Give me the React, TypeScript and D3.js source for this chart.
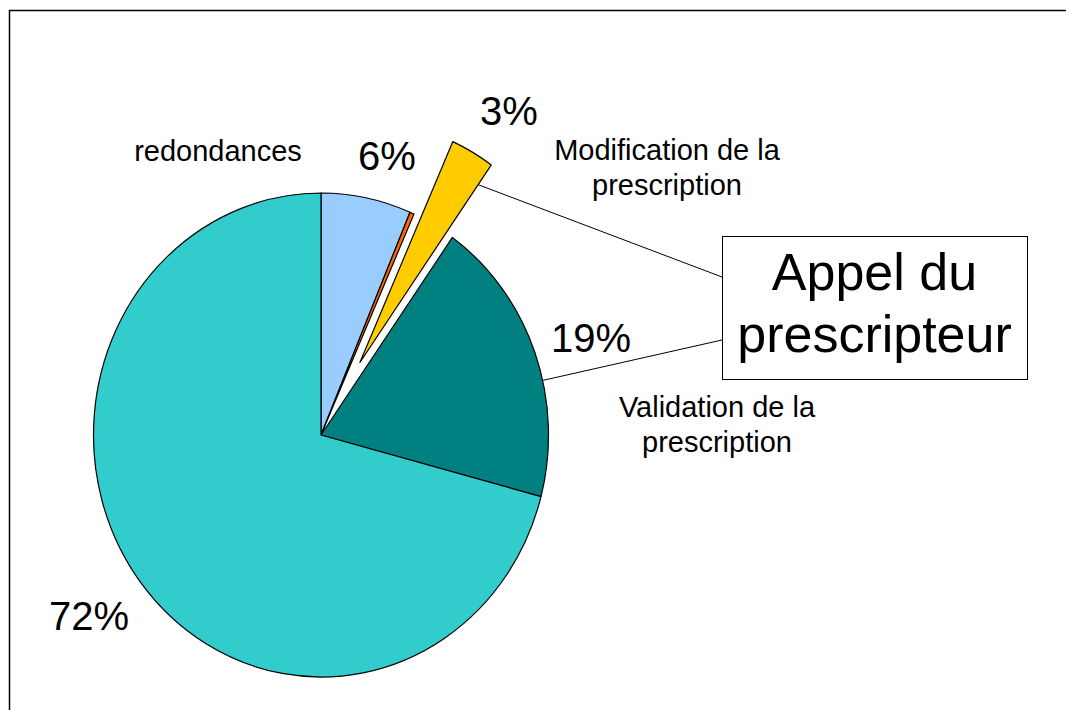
import React, { useEffect, useRef } from 'react';
import * as d3 from 'd3';

// slices clockwise from 12 o'clock
const categories = ['redondances', 'autre', 'Modification de la prescription', 'Validation de la prescription', 'reste'];
const values = [6.4, 0.3, 3.1, 19.3, 70.9];
const pctLabels = ['6%', '', '3%', '19%', '72%'];
const catLabels = [['redondances'], [], ['Modification de la', 'prescription'], ['Validation de la', 'prescription'], []];
const colors = ['#99CCFF', '#FF6600', '#FFCC00', '#008080', '#33CCCC'];
const exploded = [0, 0, 0.345, 0, 0];
const calloutLines = ['Appel du', 'prescripteur'];

const FONT = '"Liberation Sans", Arial, Helvetica, sans-serif';

const App: React.FC = () => {
  const svgRef = useRef<SVGSVGElement>(null);

  useEffect(() => {
    if (!svgRef.current) return;
    const svg = d3.select(svgRef.current);
    svg.selectAll('*').remove();

    const width = 1066;
    const height = 710;
    const cx = 321;
    const cy = 435;
    const rx = 227.5;
    const ry = 242;

    svg.append('rect').attr('width', width).attr('height', height).attr('fill', '#fff');

    // chart frame (runs off the right and bottom edges)
    svg.append('rect')
      .attr('x', 9.5).attr('y', 10.5)
      .attr('width', 1100).attr('height', 740)
      .attr('fill', 'none').attr('stroke', '#000').attr('stroke-width', 1.5);

    const pie = d3.pie<number>().sort(null).value(d => d);
    const arcs = pie(values);
    const arc = d3.arc<d3.PieArcDatum<number>>().innerRadius(0).outerRadius(rx);

    const offsetOf = (i: number) => {
      const a = (arcs[i].startAngle + arcs[i].endAngle) / 2;
      return [Math.sin(a) * exploded[i] * rx, -Math.cos(a) * exploded[i] * ry];
    };
    const pointOn = (i: number, angle: number, r: number) => {
      const [ox, oy] = offsetOf(i);
      return [cx + ox + Math.sin(angle) * r * rx, cy + oy - Math.cos(angle) * r * ry];
    };

    const g = svg.append('g');
    g.selectAll('g.slice')
      .data(arcs)
      .join('g')
        .attr('class', 'slice')
        .attr('transform', (d, i) => {
          const [ox, oy] = offsetOf(i);
          return `translate(${cx + ox},${cy + oy}) scale(1,${ry / rx})`;
        })
      .append('path')
        .attr('d', d => arc(d) as string)
        .attr('fill', (d, i) => colors[i])
        .attr('stroke', '#000')
        .attr('stroke-width', 1.2)
        .attr('stroke-linejoin', 'round')
        .attr('vector-effect', 'non-scaling-stroke');

    // callout box + leader lines
    const box = { x: 722, y: 236, w: 305, h: 143 };
    const p1 = pointOn(2, arcs[2].endAngle, 0.9);
    const tealA = arcs[3].startAngle + 0.6 * (arcs[3].endAngle - arcs[3].startAngle);
    const p2 = pointOn(3, tealA, 1);
    svg.append('line')
      .attr('x1', p1[0]).attr('y1', p1[1]).attr('x2', box.x).attr('y2', box.y + 41)
      .attr('stroke', '#000').attr('stroke-width', 1);
    svg.append('line')
      .attr('x1', p2[0]).attr('y1', p2[1]).attr('x2', box.x).attr('y2', box.y + 104)
      .attr('stroke', '#000').attr('stroke-width', 1);

    svg.append('rect')
      .attr('x', box.x + 0.5).attr('y', box.y + 0.5)
      .attr('width', box.w).attr('height', box.h)
      .attr('fill', '#fff').attr('stroke', '#000').attr('stroke-width', 1);
    svg.append('text')
      .attr('font-family', FONT).attr('font-size', 52).attr('text-anchor', 'middle')
      .selectAll('tspan')
      .data(calloutLines)
      .join('tspan')
        .attr('x', box.x + box.w / 2)
        .attr('y', (d, i) => box.y + 54 + i * 62)
        .text(d => d);

    // label layout relative to the pie centre
    const pctPos = [[66, -265], [0, 0], [188, -310], [270, -83], [-232, 195]];
    const catPos = [[-103, -274], [0, 0], [346, -275], [396, -18], [0, 0]];

    svg.append('g')
      .attr('font-family', FONT).attr('font-size', 40).attr('text-anchor', 'middle')
      .selectAll('text')
      .data(pctLabels)
      .join('text')
        .attr('x', (d, i) => cx + pctPos[i][0])
        .attr('y', (d, i) => cy + pctPos[i][1])
        .text(d => d);

    const cat = svg.append('g')
      .attr('font-family', FONT).attr('font-size', 29).attr('text-anchor', 'middle')
      .selectAll('text')
      .data(catLabels)
      .join('text');
    cat.selectAll('tspan')
      .data((d, i) => d.map(line => ({ line, i })))
      .join('tspan')
        .attr('x', d => cx + catPos[d.i][0])
        .attr('y', (d, j) => cy + catPos[d.i][1] + j * 35)
        .text(d => d.line);
  }, []);

  return (
    <div style={{ position: 'absolute', left: 0, top: 0 }}>
      <svg ref={svgRef} width={1066} height={710} style={{ display: 'block' }}></svg>
    </div>
  );
};

export default App;
